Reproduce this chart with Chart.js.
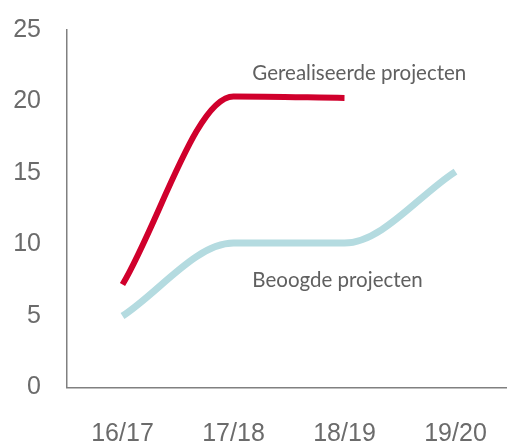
<!DOCTYPE html>
<html>
<head>
<meta charset="utf-8">
<script src="https://cdn.jsdelivr.net/npm/chart.js@4/dist/chart.umd.min.js"></script>
<style>
html,body{margin:0;padding:0;background:#fff;overflow:hidden;}
#wrap{position:relative;width:511px;height:443px;}
</style>
</head>
<body>
<div id="wrap"><canvas id="c"></canvas></div>
<script>
const categories = ['16/17', '17/18', '18/19', '19/20'];
const gerealiseerde = [7.2, 20.35, 20.25, null];
const beoogde = [5.0, 10.1, 10.1, 15.1];
const yTicks = [0, 5, 10, 15, 20, 25];
const labelGerealiseerde = 'Gerealiseerde projecten';
const labelBeoogde = 'Beoogde projecten';
// label anchors (left, baseline) in data coordinates [category index, value]
const labelPos = { g: [1.17, 21.5], b: [1.17, 7.03] };

const textPlugin = {
  id: 'seriesLabels',
  afterDatasetsDraw(chart) {
    const {ctx, scales: {x, y}} = chart;
    const px = v => x.getPixelForValue(0) + v * (x.getPixelForValue(1) - x.getPixelForValue(0));
    ctx.save();
    ctx.font = '20.5px Lato';
    ctx.fillStyle = '#606060';
    ctx.textAlign = 'left';
    ctx.textBaseline = 'alphabetic';
    ctx.fillText(labelGerealiseerde, px(labelPos.g[0]), y.getPixelForValue(labelPos.g[1]));
    ctx.fillText(labelBeoogde, px(labelPos.b[0]), y.getPixelForValue(labelPos.b[1]));
    ctx.restore();
  }
};

new Chart(document.getElementById('c'), {
  type: 'line',
  data: {
    labels: categories,
    datasets: [
      { label: labelGerealiseerde, data: gerealiseerde, borderColor: '#D0002C', borderWidth: 6, pointRadius: 0, cubicInterpolationMode: 'monotone', fill: false, borderCapStyle: 'butt' },
      { label: labelBeoogde, data: beoogde, borderColor: '#B4DBE0', borderWidth: 7, pointRadius: 0, cubicInterpolationMode: 'monotone', fill: false, borderCapStyle: 'butt' }
    ]
  },
  options: {
    responsive: true,
    maintainAspectRatio: false,
    animation: false,
    layout: { padding: { top: 30, right: 0, left: 0, bottom: 0 } },
    plugins: { legend: { display: false }, tooltip: { enabled: false } },
    scales: {
      x: {
        offset: true,
        grid: { display: false, drawTicks: false },
        border: { display: true, color: '#808080', width: 1.5 },
        ticks: { color: '#6b6b6b', font: { family: 'Liberation Sans', size: 25 }, padding: 32, maxRotation: 0 },
        afterFit(s) { s.height = 55.5; s.paddingLeft = 0; s.paddingRight = 0; }
      },
      y: {
        min: 0, max: 25,
        afterBuildTicks(s) { s.ticks = yTicks.map(v => ({ value: v })); },
        grid: { display: false, drawTicks: false },
        border: { display: true, color: '#808080', width: 1.5 },
        ticks: { color: '#6b6b6b', font: { family: 'Liberation Sans', size: 25 }, padding: 26 },
        afterFit(s) { s.width = 67; s.paddingTop = 0; s.paddingBottom = 0; }
      }
    }
  },
  plugins: [textPlugin]
});
</script>
</body>
</html>
